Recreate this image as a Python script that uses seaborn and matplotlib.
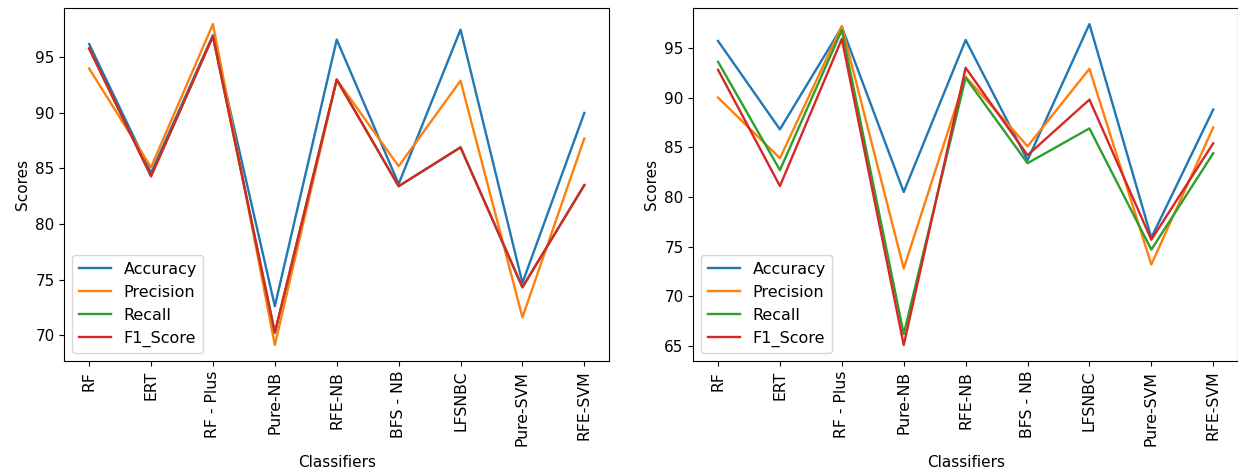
import matplotlib
matplotlib.use("Agg")
import matplotlib.pyplot as plt
import seaborn as sns
import pandas as pd

classifiers = ["RF", "ERT", "RF - Plus", "Pure-NB", "RFE-NB", "BFS - NB",
               "LFSNBC", "Pure-SVM", "RFE-SVM"]
metrics = ["Accuracy", "Precision", "Recall", "F1_Score"]

# First experiment
acc_1 = [96.2, 84.6, 97.0, 72.6, 96.6, 83.6, 97.5, 74.7, 90.0]
prec_1 = [94.0, 85.1, 98.0, 69.1, 93.0, 85.2, 92.9, 71.6, 87.7]
rec_1 = [95.8, 84.3, 96.9, 70.2, 93.0, 83.4, 86.9, 74.3, 83.5]
f1_1 = [95.8, 84.3, 96.9, 70.2, 93.0, 83.4, 86.9, 74.3, 83.5]

# Second experiment
acc_2 = [95.7, 86.8, 97.1, 80.5, 95.8, 83.7, 97.4, 75.9, 88.8]
prec_2 = [90.0, 83.9, 97.2, 72.8, 92.1, 85.1, 92.9, 73.2, 87.0]
rec_2 = [93.6, 82.7, 96.8, 66.2, 92.0, 83.4, 86.9, 74.7, 84.4]
f1_2 = [92.8, 81.1, 95.9, 65.1, 93.0, 84.2, 89.8, 75.7, 85.4]


def to_long(series):
    rows = []
    for name, vals in zip(metrics, series):
        for c, v in zip(classifiers, vals):
            rows.append({"Classifiers": c, "Metric": name, "Scores": v})
    return pd.DataFrame(rows)


df1 = to_long([acc_1, prec_1, rec_1, f1_1])
df2 = to_long([acc_2, prec_2, rec_2, f1_2])

plt.rcParams["font.size"] = 11
fig = plt.figure(figsize=(12.38, 4.72), dpi=100)
ax1 = fig.add_axes([0.052, 0.235, 0.440, 0.748])
ax2 = fig.add_axes([0.560, 0.235, 0.440, 0.748])

palette = sns.color_palette("tab10", 4)
for ax, df in ((ax1, df1), (ax2, df2)):
    sns.lineplot(data=df, x="Classifiers", y="Scores", hue="Metric",
                 hue_order=metrics, palette=palette, sort=False,
                 linewidth=1.7, ax=ax)
    handles, labels = ax.get_legend_handles_labels()
    ax.legend(handles, labels, loc="lower left", fontsize=11.5)
    ax.tick_params(axis="x", labelrotation=90, labelsize=11.3)
    ax.tick_params(axis="y", labelsize=11)
    ax.set_xlabel("Classifiers", fontsize=11, labelpad=7)
    ax.set_ylabel("Scores", fontsize=11)

fig.savefig("out.png", dpi=100)
